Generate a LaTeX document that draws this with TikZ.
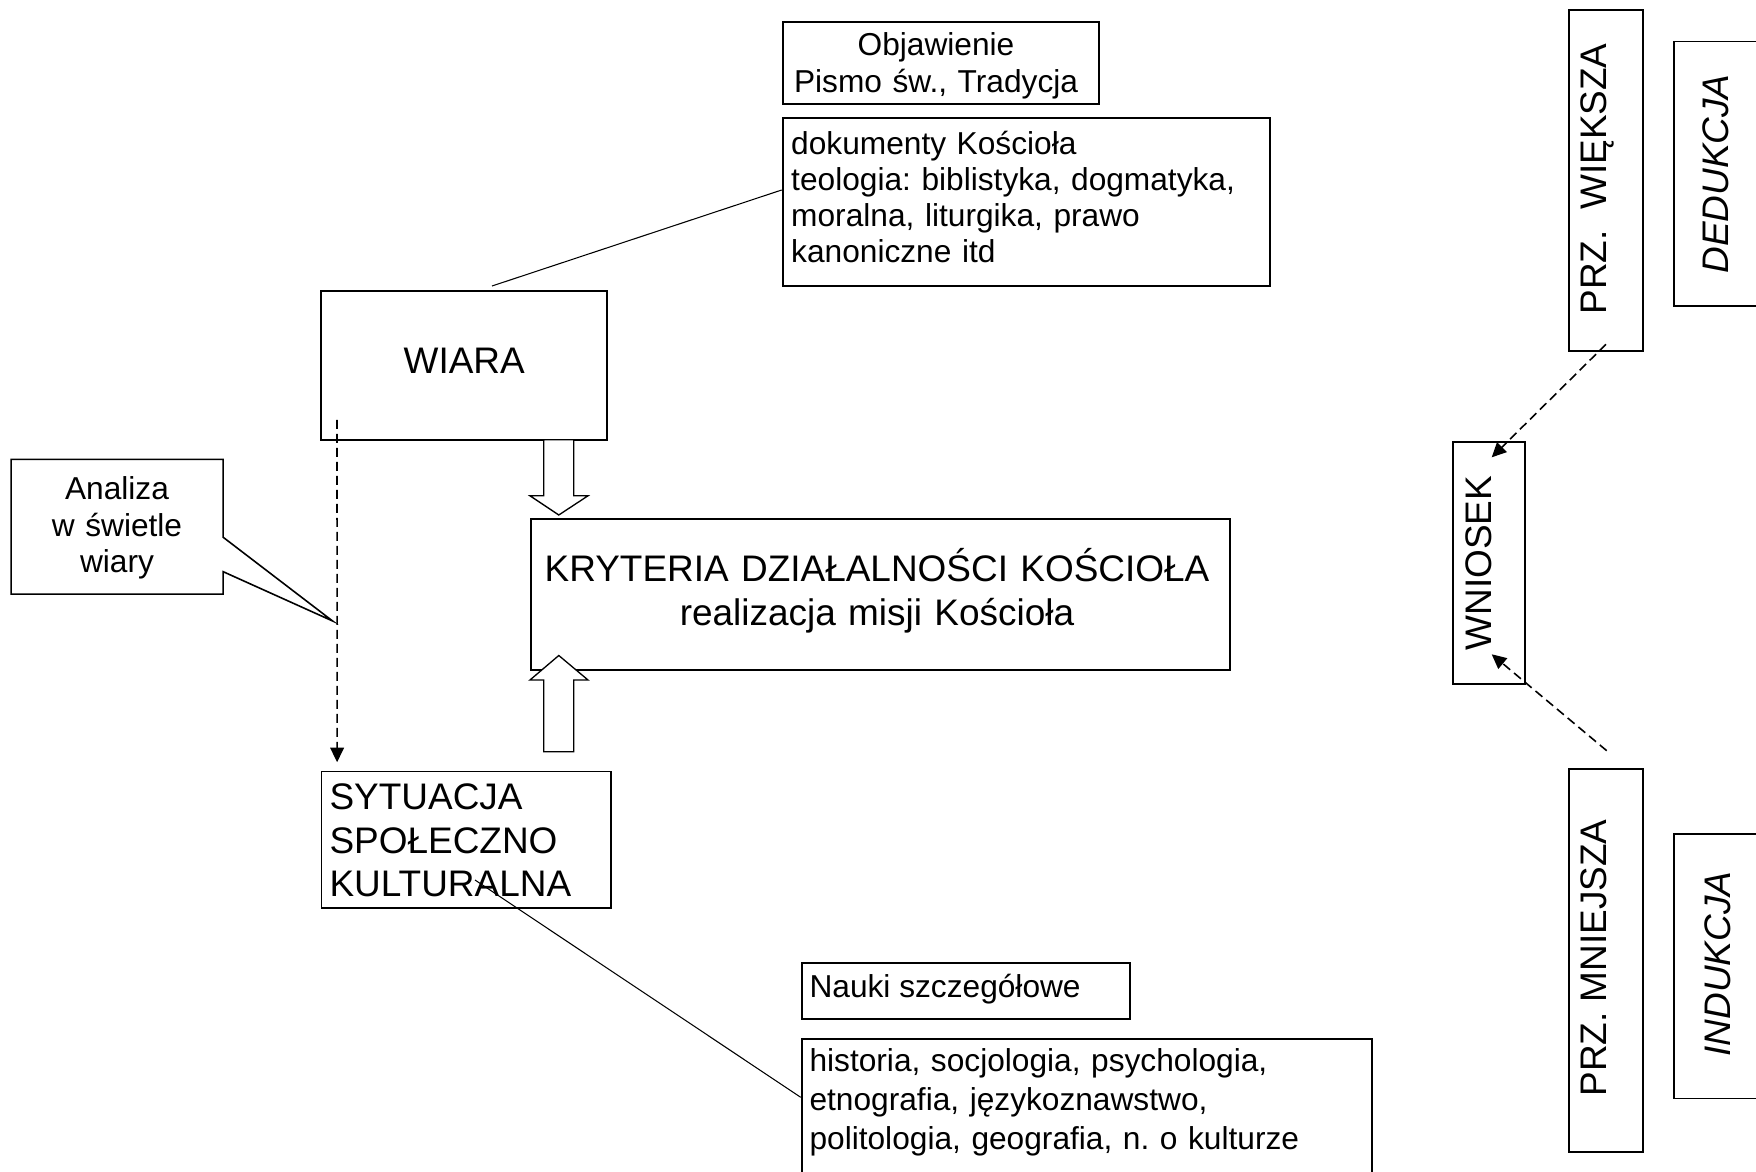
\documentclass[tikz,border=0pt]{standalone}
\usepackage{fontspec}
\setmainfont{Liberation Sans}
\usetikzlibrary{arrows.meta}
\usetikzlibrary{fit}
\newcommand{\upx}{0.3788pt}

\begin{document}
\frenchspacing
\begin{tikzpicture}[x=0.3788pt, y=-0.3788pt,
    box/.style={draw, line width=0.75pt, inner sep=0pt},
    small/.style={font=\fontsize{12}{13.8}\selectfont, inner sep=0pt},
    large/.style={font=\fontsize{14}{16.1}\selectfont, inner sep=0pt},
    leader/.style={line width=0.4pt},
    dasharrow/.style={line width=0.6pt, dash pattern=on 3.4pt off 1.9pt, -{Triangle[length=5.5pt,width=5.2pt]}},
    blockarrow/.style={fill=white, line width=0.5pt}]

    \useasboundingbox (0,0) rectangle (1756,1172);

    % boxes
    \node[box, fit={(782.7,21.7) (1099,104)}] (objaw) {};
    \node[box, fit={(782.7,117.7) (1270,286)}] (dokum) {};
    \node[box, fit={(321.4,291.2) (607,439.7)}] (wiara) {};
    \node[box, fit={(531,519) (1230,670)}] (kryt) {};
    \node[box, fit={(321.5,771.5) (611,908)}] (syt) {};
    \node[box, fit={(801.7,962.7) (1129.7,1019)}] (nauki) {};
    \node[box, fit={(801.7,1039.3) (1372,1185)}] (hist) {};
    \node[box, fit={(1569,10) (1643,350.7)}] (przw) {};
    \node[box, fit={(1452.7,441.7) (1525,684)}] (wniosek) {};
    \node[box, fit={(1569,769) (1643,1151.7)}] (przm) {};
    \node[box, line width=0.6pt, fit={(1674,41.7) (1770,306)}] (dedukcja) {};
    \node[box, line width=0.6pt, fit={(1674,834) (1770,1098.3)}] (indukcja) {};

    % texts
    \node[small, anchor=base, text width=300*\upx, align=center] (objawT) at (936,56) {Objawienie\\Pismo św., Tradycja};
    \node[small, font=\fontsize{12}{13.7}\selectfont, anchor=base west, text width=470*\upx, align=left] (dokumT) at (790.7,154.5)
        {dokumenty Kościoła\\teologia: biblistyka, dogmatyka,\\moralna, liturgika, prawo\\kanoniczne itd};
    \node[large, anchor=base] (wiaraT) at (464.2,374) {WIARA};
    \node[small, anchor=base, text width=200*\upx, align=center] (analizaT) at (117,500) {Analiza\\w świetle\\wiary};
    \node[large, font=\fontsize{14}{16.3}\selectfont, anchor=base, text width=690*\upx, align=center] (krytT) at (877,582)
        {KRYTERIA DZIAŁALNOŚCI KOŚCIOŁA\\realizacja misji Kościoła};
    \node[large, font=\fontsize{14}{16.4}\selectfont, anchor=base west, text width=280*\upx, align=left] (sytT) at (329,810)
        {SYTUACJA\\SPOŁECZNO\\KULTURALNA};
    \node[small, anchor=base west] (naukiT) at (809,998) {Nauki szczegółowe};
    \node[small, font=\fontsize{12}{14.6}\selectfont, anchor=base west, text width=560*\upx, align=left] (histT) at (809,1072)
        {historia, socjologia, psychologia,\\etnografia, językoznawstwo,\\politologia, geografia, n. o kulturze};
    \node[large, rotate=90, anchor=base] (przwT) at (1606.7,179) {PRZ.~~WIĘKSZA};
    \node[large, rotate=90, anchor=base] (wniosekT) at (1491.7,563) {WNIOSEK};
    \node[large, rotate=90, anchor=base] (przmT) at (1606.7,958) {PRZ. MNIEJSZA};
    \node[large, rotate=90, anchor=base, font=\fontsize{14}{16.1}\selectfont\itshape] (dedukcjaT) at (1728,174) {DEDUKCJA};
    \node[large, rotate=90, anchor=base, font=\fontsize{14}{16.1}\selectfont\itshape] (indukcjaT) at (1730,964) {INDUKCJA};

    % callout
    \draw[line width=0.6pt] (11.2,459.3) -- (223.2,459.3) -- (223.2,537.3) -- (332.6,621)
        -- (223.2,571.7) -- (223.2,594.1) -- (11.2,594.1) -- cycle;

    % block arrows
    \draw[blockarrow] (543.8,439.7) -- (573.7,439.7) -- (573.7,495.8) -- (588,495.8)
        -- (558.8,515) -- (530,495.8) -- (543.8,495.8) -- cycle;
    \draw[blockarrow] (543.8,751.8) -- (573.7,751.8) -- (573.7,680) -- (588,680)
        -- (558.8,655.5) -- (530,680) -- (543.8,680) -- cycle;

    % leaders
    \draw[leader] ([shift={(27.8,-4.2)}]wiara.north) -- ([shift={(0,-11.85)}]dokum.west);
    \draw[leader] ([shift={(8.75,40.25)}]syt.center) -- ([shift={(0,59)}]hist.north west);

    % dashed arrows
    \coordinate (wstart) at ([shift={(16.6,-20.7)}]wiara.south west);
    \draw[dasharrow] (wstart) -- ([shift={(16.6,-8.3)}]syt.north west);
    \draw[dasharrow] ([shift={(0,-7.4)}]przw.south) -- ([shift={(2.85,16.6)}]wniosek.north);
    \draw[dasharrow] ([shift={(0.7,-17.3)}]przm.north) -- ([shift={(2.85,-30.7)}]wniosek.south);
\end{tikzpicture}
\end{document}
